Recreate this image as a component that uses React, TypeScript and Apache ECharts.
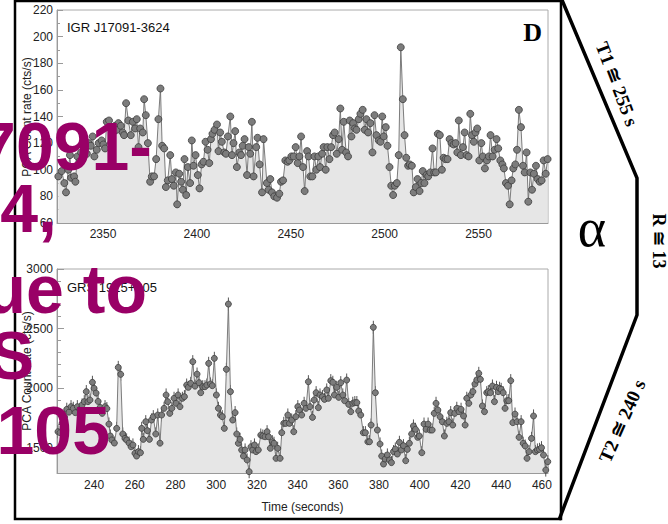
import React, { useEffect, useRef } from "react";
import * as echarts from "echarts";

// IGR J17091-3624 light curve (PCA count rate, cts/s)
const igrTime = [
  2326.2, 2328.0, 2329.4, 2330.3, 2331.5, 2332.4, 2333.0, 2334.6, 2335.3, 2336.3,
  2337.4, 2338.3, 2339.3, 2340.4, 2341.4, 2342.4, 2343.5, 2344.5, 2345.4, 2346.7,
  2347.7, 2349.3, 2350.2, 2351.1, 2352.0, 2353.2, 2354.3, 2355.4, 2356.4, 2357.3,
  2358.2, 2359.5, 2360.5, 2361.2, 2362.3, 2363.5, 2364.8, 2365.9, 2367.1, 2368.0,
  2368.9, 2369.8, 2371.2, 2371.9, 2372.8, 2373.9, 2375.1, 2376.0, 2377.2, 2378.3,
  2379.5, 2380.6, 2381.5, 2382.6, 2383.5, 2384.5, 2385.8, 2386.7, 2387.7, 2388.8,
  2389.5, 2390.6, 2391.6, 2392.5, 2393.4, 2394.3, 2395.2, 2396.4, 2397.3, 2398.2,
  2399.3, 2400.5, 2401.4, 2402.5, 2403.5, 2404.6, 2405.7, 2406.6, 2407.5, 2408.3,
  2409.4, 2410.7, 2411.5, 2412.4, 2413.3, 2414.6, 2415.5, 2416.5, 2417.8, 2418.7,
  2419.5, 2420.4, 2421.3, 2422.6, 2423.5, 2424.4, 2425.4, 2426.7, 2427.6, 2428.4,
  2429.3, 2430.2, 2431.6, 2432.3, 2433.4, 2434.7, 2435.5, 2437.3, 2438.2, 2439.1,
  2440.0, 2441.2, 2442.7, 2443.9, 2444.8, 2445.9, 2447.1, 2448.3, 2449.2, 2450.3,
  2451.5, 2452.6, 2453.7, 2454.6, 2455.5, 2456.5, 2457.4, 2458.7, 2459.5, 2460.4,
  2461.5, 2462.6, 2463.6, 2464.7, 2465.6, 2466.7, 2467.5, 2468.6, 2469.5, 2470.6,
  2471.5, 2472.5, 2473.4, 2474.5, 2475.5, 2476.4, 2477.3, 2478.2, 2479.5, 2480.5,
  2481.4, 2482.3, 2483.2, 2484.1, 2485.0, 2486.2, 2487.1, 2488.3, 2489.4, 2490.3,
  2491.2, 2492.4, 2493.5, 2494.6, 2495.6, 2496.9, 2497.8, 2498.7, 2499.5, 2500.6,
  2501.5, 2502.6, 2503.5, 2504.5, 2505.4, 2506.5, 2507.5, 2508.6, 2509.7, 2510.6,
  2511.5, 2512.5, 2513.4, 2514.5, 2515.5, 2516.6, 2517.5, 2518.6, 2519.5, 2520.3,
  2521.2, 2522.3, 2523.2, 2524.3, 2525.5, 2526.4, 2527.3, 2528.3, 2529.4, 2530.5,
  2531.4, 2532.4, 2533.5, 2534.6, 2535.6, 2536.7, 2537.8, 2538.7, 2539.5, 2540.6,
  2541.7, 2542.6, 2543.6, 2544.7, 2545.6, 2546.5, 2547.5, 2548.4, 2549.3, 2550.4,
  2551.5, 2552.3, 2553.4, 2554.5, 2555.5, 2556.4, 2557.5, 2558.6, 2559.6, 2560.5,
  2561.6, 2562.7, 2563.5, 2564.6, 2565.7, 2566.6, 2567.6, 2568.5, 2569.6, 2570.5,
  2571.5, 2572.6, 2573.7, 2574.6, 2575.6, 2576.5, 2577.6, 2578.5, 2579.5, 2580.6,
  2581.5, 2582.6, 2583.6, 2584.7, 2585.8, 2586.8,
];
const igrRate = [
  95, 99, 90, 83, 100, 111, 94, 95, 91, 110,
  106, 113, 109, 116, 112, 120, 118, 125, 110, 115,
  120, 122, 119, 116, 136, 137, 120, 128, 133, 130,
  135, 133, 128, 126, 150, 137, 126, 136, 131, 138,
  117, 131, 128, 153, 141, 120, 91, 95, 95, 108,
  138, 161, 118, 116, 87, 92, 111, 93, 88, 98,
  74, 97, 91, 85, 108, 81, 102, 90, 122, 103,
  111, 96, 86, 104, 106, 121, 115, 105, 123, 127,
  130, 134, 114, 128, 121, 113, 112, 125, 140, 111,
  120, 129, 102, 113, 111, 118, 123, 96, 117, 112,
  136, 95, 117, 124, 104, 83, 123, 90, 85, 93,
  83, 80, 79, 82, 91, 92, 107, 106, 107, 110,
  110, 117, 105, 110, 125, 102, 84, 114, 110, 95,
  95, 110, 100, 110, 102, 112, 117, 100, 117, 108,
  117, 126, 128, 112, 123, 146, 115, 136, 113, 110,
  137, 125, 135, 131, 130, 138, 142, 145, 130, 138,
  128, 135, 113, 141, 126, 122, 121, 140, 125, 132,
  118, 102, 88, 81, 88, 90, 111, 192, 153, 126,
  109, 103, 104, 103, 83, 87, 93, 84, 90, 99,
  90, 96, 95, 98, 116, 98, 98, 127, 126, 100,
  109, 108, 108, 123, 120, 119, 120, 113, 137, 111,
  117, 128, 111, 110, 142, 126, 121, 128, 131, 107,
  120, 110, 101, 107, 110, 126, 110, 115, 123, 116,
  107, 104, 101, 90, 88, 74, 92, 101, 104, 115,
  145, 132, 103, 98, 113, 76, 98, 85, 97, 103,
  93, 91, 92, 107, 97, 108,
];

// GRS 1915+105 light curve (PCA count rate, cts/s)
const grsTime = [
  222.3, 223.3, 224.3, 225.5, 226.6, 227.7, 228.7, 229.8, 230.8, 231.8,
  233.1, 234.1, 235.2, 236.2, 237.0, 238.0, 239.2, 240.0, 241.0, 242.0,
  243.0, 244.0, 245.4, 246.3, 247.3, 248.0, 248.7, 250.0, 251.1, 251.9,
  253.1, 254.1, 255.2, 256.0, 257.2, 258.2, 259.1, 260.1, 260.9, 261.8,
  262.8, 263.4, 264.2, 265.4, 266.2, 267.2, 268.2, 269.1, 270.3, 271.3,
  272.4, 273.2, 274.4, 275.4, 276.2, 277.2, 278.2, 279.3, 280.3, 281.3,
  282.2, 283.4, 284.4, 285.5, 286.3, 287.5, 288.5, 289.6, 290.6, 291.6,
  292.4, 293.4, 294.5, 295.4, 296.3, 297.2, 298.1, 299.1, 300.1, 301.1,
  302.1, 303.0, 304.0, 305.0, 306.0, 307.0, 308.1, 309.3, 310.1, 310.9,
  311.7, 312.5, 313.4, 314.2, 315.2, 316.2, 317.1, 317.9, 318.8, 319.6,
  320.7, 321.9, 322.9, 324.0, 325.0, 325.7, 326.6, 327.6, 328.4, 329.4,
  330.2, 331.4, 332.2, 333.2, 334.2, 335.2, 336.0, 337.1, 338.1, 339.1,
  340.1, 340.9, 342.0, 343.2, 344.1, 345.3, 346.1, 347.3, 348.1, 349.1,
  350.2, 351.0, 352.2, 353.2, 354.3, 355.1, 356.3, 357.3, 358.1, 359.2,
  360.2, 361.2, 362.2, 363.1, 364.1, 365.1, 366.1, 367.1, 368.1, 369.1,
  370.0, 371.0, 372.3, 373.3, 374.5, 375.3, 376.1, 377.2, 378.2, 379.2,
  380.5, 381.3, 382.2, 383.0, 384.1, 385.1, 386.1, 387.1, 388.0, 389.0,
  390.0, 391.0, 392.0, 393.1, 393.9, 394.9, 396.0, 396.9, 397.9, 399.0,
  399.8, 401.0, 402.1, 403.1, 404.1, 405.1, 406.1, 407.1, 408.0, 408.9,
  410.0, 411.1, 412.1, 413.3, 414.3, 415.2, 416.2, 417.2, 418.2, 419.3,
  420.3, 421.5, 422.3, 423.1, 424.1, 425.1, 426.1, 427.1, 428.0, 429.0,
  429.8, 430.8, 431.8, 432.9, 433.7, 434.7, 435.7, 436.7, 437.7, 438.5,
  439.2, 440.0, 441.0, 441.9, 442.8, 443.7, 444.7, 445.7, 446.8, 447.8,
  448.8, 449.8, 450.8, 451.8, 452.7, 453.7, 454.9, 455.9, 456.8, 457.8,
  458.8, 459.8, 460.8, 461.9, 462.9,
];
const grsRate = [
  1636, 1628, 1706, 1760, 1824, 1800, 1846, 1832, 1796, 1846,
  1824, 1860, 1888, 1972, 1888, 1902, 2050, 2000, 1960, 1890,
  1840, 1790, 1846, 1830, 1700, 1600, 1567, 1541, 1664, 2175,
  2117, 1617, 1580, 1567, 1541, 1510, 1525, 1455, 1432, 1469,
  1460, 1664, 1572, 1720, 1645, 1572, 1734, 1762, 1617, 1776,
  1540, 1776, 1832, 1944, 1888, 1790, 1832, 1916, 1874, 1944,
  1846, 1916, 1930, 2027, 2008, 2041, 2223, 2018, 2119, 2047,
  1963, 2013, 2013, 2027, 2209, 2036, 2022, 2251, 1944, 1832,
  1776, 1762, 1664, 2159, 2706, 1972, 1734, 1796, 1617, 1539,
  1572, 1483, 1432, 1483, 1399, 1301, 1510, 1483, 1525, 1469,
  1483, 1608, 1600, 1594, 1636, 1594, 1497, 1552, 1539, 1413,
  1497, 1413, 1628, 1706, 1706, 1776, 1706, 1734, 1636, 1762,
  1846, 1818, 1776, 1874, 1832, 2055, 1846, 1756, 1902, 1963,
  1838, 1944, 1930, 1907, 1986, 1916, 2064, 2050, 1944, 2008,
  1924, 2047, 1944, 1896, 2069, 1865, 1804, 1874, 1880, 1880,
  1810, 1776, 1628, 1628, 1552, 1552, 1692, 2511, 1963, 1650,
  1533, 1432, 1365, 1407, 1441, 1399, 1377, 1469, 1491, 1449,
  1547, 1483, 1519, 1393, 1488, 1539, 1617, 1684, 1656, 1589,
  1600, 1460, 1700, 1656, 1700, 1650, 1650, 1790, 1874, 1818,
  1762, 1720, 1600, 1706, 1720, 1796, 1692, 1790, 1832, 1804,
  1824, 1768, 1692, 1916, 1874, 1944, 1972, 2036, 2069, 2125,
  2075, 1852, 1804, 1963, 1972, 1963, 2019, 1888, 2008, 1972,
  2000, 1991, 1963, 1832, 1896, 1896, 2064, 1712, 1784, 1720,
  1589, 1720, 1539, 1516, 1413, 1469, 1580, 1768, 1469, 1483,
  1488, 1502, 1441, 1315, 1385,
];
// half-length of the count-rate error bars (cts/s)
const grsErr = 55;

// axis tick / label positions
const igrTimeLabels = [2350, 2400, 2450, 2500, 2550];
const igrTimeTicks = [
  2330, 2340, 2350, 2360, 2370, 2380, 2390, 2400, 2410, 2420, 2430, 2440, 2450,
  2460, 2470, 2480, 2490, 2500, 2510, 2520, 2530, 2540, 2550, 2560, 2570, 2580,
];
const grsTimeLabels = [240, 260, 280, 300, 320, 340, 360, 380, 400, 420, 440, 460];
const grsTimeTicks = [
  230, 240, 250, 260, 270, 280, 290, 300, 310, 320, 330, 340, 350, 360, 370, 380,
  390, 400, 410, 420, 430, 440, 450, 460,
];
const grsRateLabels = [1500, 2000, 2500, 3000];
const grsRateTicks = [
  1300, 1400, 1500, 1600, 1700, 1800, 1900, 2000, 2100, 2200, 2300, 2400, 2500,
  2600, 2700, 2800, 2900, 3000,
];

// overlay caption fragments, one per line
const captionLines = ["7091-", "4,", "ue to", "S", "+105"];

const SANS = "'Liberation Sans', Arial, Helvetica, sans-serif";
const SERIF = "'Liberation Serif', 'Times New Roman', 'DejaVu Serif', serif";
const AXIS_GREY = "#9a9a9a";
const plain = (v: number) => String(v);
const LABEL = { fontFamily: SANS, fontSize: 12, color: "#222", formatter: plain };
const YNAME = "PCA Count rate (cts/s)";

function zip(xs: number[], ys: number[]) {
  return xs.map((x, i) => [x, ys[i]]);
}

export default function App() {
  const ref = useRef<HTMLDivElement>(null);

  useEffect(() => {
    if (!ref.current) return;
    const chart = echarts.init(ref.current, null, { renderer: "svg" });

    const lineSeries = (data: number[][], xi: number, yi: number, size: number) => ({
      type: "line",
      xAxisIndex: xi,
      yAxisIndex: yi,
      data,
      symbol: "circle",
      symbolSize: size,
      z: 3,
      lineStyle: { color: "#6e6e6e", width: 0.9 },
      itemStyle: { color: "#7c7c7c", borderColor: "#3c3c3c", borderWidth: 0.8 },
      areaStyle: { color: "#e6e6e6", opacity: 1, origin: "start" },
    });

    // vertical centre and right edge of each caption line
    const captionCentres = [146, 208, 289, 355, 430];
    const captionRights = [152, 57, 147, 34, 110];

    chart.setOption({
      animation: false,
      backgroundColor: "#fff",
      grid: [
        { left: 57, top: 10, width: 491, height: 213, show: true, borderColor: "#aaa", borderWidth: 1, backgroundColor: "transparent" },
        { left: 57, top: 269, width: 491, height: 204, show: true, borderColor: "#aaa", borderWidth: 1, backgroundColor: "transparent" },
      ],
      xAxis: [
        {
          type: "value", gridIndex: 0, position: "bottom", min: 2325.5, max: 2587,
          axisLine: { show: true, lineStyle: { color: AXIS_GREY } },
          axisTick: { show: true, inside: true, length: 7, customValues: igrTimeLabels, lineStyle: { color: AXIS_GREY } },
          axisLabel: { ...LABEL, margin: 5, customValues: igrTimeLabels },
          splitLine: { show: false },
        },
        {
          type: "value", gridIndex: 0, position: "bottom", min: 2325.5, max: 2587,
          axisLine: { show: false },
          axisTick: { show: true, inside: true, length: 4, customValues: igrTimeTicks, lineStyle: { color: AXIS_GREY } },
          axisLabel: { show: false },
          splitLine: { show: false },
        },
        {
          type: "value", gridIndex: 1, position: "bottom", min: 221.8, max: 463,
          name: "Time (seconds)", nameLocation: "middle", nameGap: 28,
          nameTextStyle: { fontFamily: SANS, fontSize: 12, color: "#222" },
          axisLine: { show: true, lineStyle: { color: AXIS_GREY } },
          axisTick: { show: true, inside: true, length: 7, customValues: grsTimeLabels, lineStyle: { color: AXIS_GREY } },
          axisLabel: { ...LABEL, margin: 6, customValues: grsTimeLabels },
          splitLine: { show: false },
        },
        {
          type: "value", gridIndex: 1, position: "bottom", min: 221.8, max: 463,
          axisLine: { show: false },
          axisTick: { show: true, inside: true, length: 4, customValues: grsTimeTicks, lineStyle: { color: AXIS_GREY } },
          axisLabel: { show: false },
          splitLine: { show: false },
        },
      ],
      yAxis: [
        {
          type: "value", gridIndex: 0, position: "left", min: 60, max: 220, interval: 20,
          axisLine: { show: true, lineStyle: { color: AXIS_GREY } },
          axisTick: { show: true, inside: true, length: 6, lineStyle: { color: AXIS_GREY } },
          minorTick: { show: true, splitNumber: 2, length: 3, lineStyle: { color: AXIS_GREY } },
          axisLabel: { ...LABEL, margin: 4 },
          splitLine: { show: false },
        },
        {
          type: "value", gridIndex: 1, position: "left", min: 1290, max: 3000,
          axisLine: { show: true, lineStyle: { color: AXIS_GREY } },
          axisTick: { show: true, inside: true, length: 7, customValues: grsRateLabels, lineStyle: { color: AXIS_GREY } },
          axisLabel: { ...LABEL, margin: 4, customValues: grsRateLabels },
          splitLine: { show: false },
        },
        {
          type: "value", gridIndex: 1, position: "left", min: 1290, max: 3000,
          axisLine: { show: false },
          axisTick: { show: true, inside: true, length: 4, customValues: grsRateTicks, lineStyle: { color: AXIS_GREY } },
          axisLabel: { show: false },
          splitLine: { show: false },
        },
      ],
      series: [
        lineSeries(zip(igrTime, igrRate), 0, 0, 7),
        {
          type: "custom",
          xAxisIndex: 2,
          yAxisIndex: 1,
          z: 2,
          data: zip(grsTime, grsRate),
          renderItem: (_params: any, api: any) => {
            const x = api.value(0);
            const y = api.value(1);
            const lo = api.coord([x, y - grsErr]);
            const hi = api.coord([x, y + grsErr]);
            return {
              type: "line",
              shape: { x1: lo[0], y1: lo[1], x2: hi[0], y2: hi[1] },
              style: { stroke: "#555", lineWidth: 1 },
            };
          },
        },
        lineSeries(zip(grsTime, grsRate), 2, 1, 6),
      ],
      graphic: [
        // y-axis titles
        { type: "text", x: 27, y: 117, rotation: Math.PI / 2, z: 5, style: { text: YNAME, font: `12px ${SANS}`, fill: "#222", align: "center", verticalAlign: "middle" } },
        { type: "text", x: 27, y: 371, rotation: Math.PI / 2, z: 5, style: { text: YNAME, font: `12px ${SANS}`, fill: "#222", align: "center", verticalAlign: "middle" } },
        // panel titles
        { type: "text", x: 67, y: 27, z: 10, style: { text: "IGR J17091-3624", font: `13px ${SANS}`, fill: "#111", verticalAlign: "middle" } },
        { type: "text", x: 67, y: 287, z: 10, style: { text: "GRS 1915+105", font: `13px ${SANS}`, fill: "#111", verticalAlign: "middle" } },
        { type: "text", x: 542, y: 32, z: 10, style: { text: "D", font: `bold 26px ${SERIF}`, fill: "#000", align: "right", verticalAlign: "middle" } },
        // outer frame
        { type: "rect", z: 10, shape: { x: 15, y: 1, width: 546, height: 518 }, style: { fill: "none", stroke: "#000", lineWidth: 2.5 } },
        // bracket on the right
        { type: "polyline", z: 10, shape: { points: [[562, 0], [637, 178], [637, 315], [559, 520]] }, style: { fill: "none", stroke: "#000", lineWidth: 3.5, lineJoin: "miter" } },
        { type: "text", x: 617, y: 84, rotation: (-69 * Math.PI) / 180, z: 10, style: { text: "T1 ≅ 255 s", font: `bold 19px ${SERIF}`, fill: "#000", align: "center", verticalAlign: "middle" } },
        { type: "text", x: 659, y: 241, rotation: -Math.PI / 2, z: 10, style: { text: "R ≅ 13", font: `bold 18px ${SERIF}`, fill: "#000", align: "center", verticalAlign: "middle" } },
        { type: "text", x: 622, y: 421, rotation: (66 * Math.PI) / 180, z: 10, style: { text: "T2 ≅ 240 s", font: `bold 19px ${SERIF}`, fill: "#000", align: "center", verticalAlign: "middle" } },
        { type: "text", x: 592, y: 228, z: 10, style: { text: "α", font: `54px ${SERIF}`, fill: "#000", align: "center", verticalAlign: "middle" } },
        ...captionLines.map((line, i) => ({
          type: "text",
          x: captionRights[i],
          y: captionCentres[i],
          z: 20,
          style: { text: line, font: `bold 68px ${SANS}`, fill: "#990066", align: "right", verticalAlign: "middle" },
        })),
      ],
    });

    return () => chart.dispose();
  }, []);

  return (
    <div
      ref={ref}
      style={{ position: "absolute", left: 0, top: 0, width: 668, height: 524, background: "#fff" }}
    />
  );
}
